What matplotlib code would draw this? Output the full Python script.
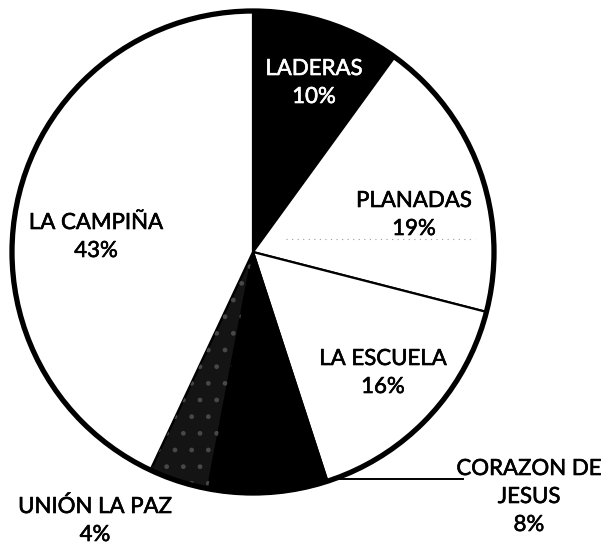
"""Pie chart: distribution by sector (LA CAMPIÑA, LADERAS, PLANADAS, ...)."""

import matplotlib

matplotlib.use("Agg")
import matplotlib.pyplot as plt
import matplotlib.patheffects as pe
from matplotlib.patches import Circle, Wedge

# --- data -------------------------------------------------------------------
sectors = ["LADERAS", "PLANADAS", "LA ESCUELA", "CORAZON DE\nJESUS", "UNIÓN LA PAZ", "LA CAMPIÑA"]
shares = [10, 19, 16, 8, 4, 43]
pct_labels = ["10%", "19%", "16%", "8%", "4%", "43%"]

# --- style / layout (pixel coords, y from top) ----------------------------------
W, H = 603, 552
CX, CY, R = 253, 252, 241
fills = ["black", "white", "white", "black", "#141414", "white"]
text_colors = ["white", "black", "black", "black", "black", "black"]
label_xy = [(314, 83), (414, 215), (383, 373), (529, 497), (95, 521), (96, 237)]

plt.rcParams["font.family"] = ["Lato", "DejaVu Sans"]

fig = plt.figure(figsize=(W / 100, H / 100), dpi=100)
ax = fig.add_axes([0, 0, 1, 1])

wedges, _ = ax.pie(
    shares,
    colors=fills,
    startangle=90,
    counterclock=False,
    center=(CX, H - CY),
    radius=R,
    wedgeprops=dict(edgecolor="black", linewidth=1.6),
)

# speckled texture on the small dark slice
w = wedges[4]
ax.add_patch(Wedge(w.center, w.r, w.theta1, w.theta2, facecolor="none",
                   edgecolor="#484848", hatch=".", linewidth=0))

# heavy outer rim
ax.add_patch(Circle((CX, H - CY), R, fill=False, edgecolor="black", linewidth=3.8))

# faint dotted scan artefact inside PLANADAS
ax.plot([286, 475], [H - 239, H - 239], color="#9a9a9a", linestyle=(0, (1, 4)), linewidth=0.8)

# leader line for CORAZON DE JESUS
ax.plot([330, 463], [H - 479, H - 479], color="black", linewidth=1.4)

for name, pct, (lx, ly), tc in zip(sectors, pct_labels, label_xy, text_colors):
    ax.text(lx, H - ly, f"{name}\n{pct}", ha="center", va="center",
            fontsize=16, color=tc, linespacing=1.5,
            path_effects=[pe.withStroke(linewidth=0.45, foreground=tc)])

ax.set_xlim(0, W)
ax.set_ylim(0, H)
ax.set_aspect("equal")
ax.axis("off")

fig.savefig("out.png", dpi=100, facecolor="white")
